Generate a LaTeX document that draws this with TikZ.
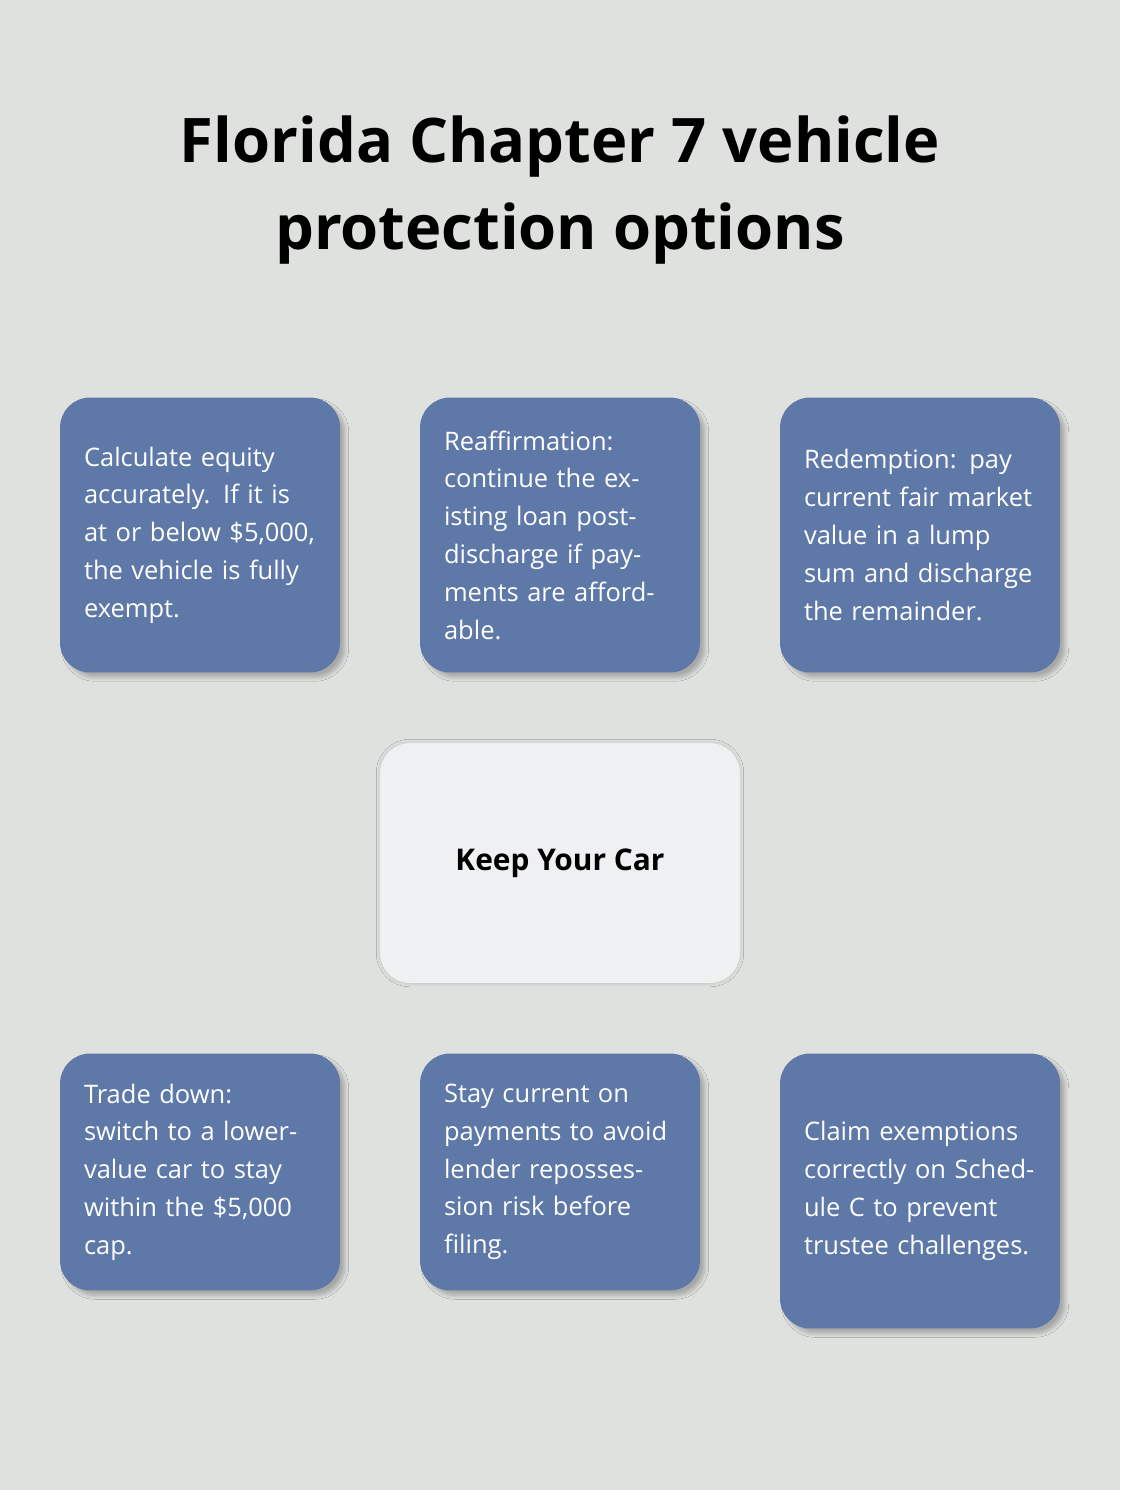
\documentclass[tikz,border=0pt]{standalone}
\usepackage{fontspec}
\setmainfont{Open Sans}
\usetikzlibrary{positioning,shadows.blur,backgrounds}
\definecolor{bgcol}{HTML}{DFE1DF}
\definecolor{boxcol}{HTML}{5E78A8}
\definecolor{hubcol}{HTML}{EFF0F2}
\definecolor{dashcol}{HTML}{5A5A5A}
\tikzset{
  option/.style={fill=boxcol,rounded corners=0.6cm,text=white,align=left,
    text width=4.64cm,inner xsep=0.48cm,inner ysep=0.46cm,
    font=\fontsize{14.5}{21.5}\selectfont,
    blur shadow={shadow blur steps=8,shadow xshift=0.1cm,shadow yshift=-0.1cm,shadow opacity=25}},
  hub/.style={fill=hubcol,rounded corners=0.6cm,minimum width=7.2cm,minimum height=4.8cm,
    font=\fontsize{17}{21}\selectfont\bfseries,
    blur shadow={shadow blur steps=8,shadow xshift=0cm,shadow yshift=0cm,shadow opacity=15}},
  link/.style={dashcol,line width=1.6pt,dash pattern=on 4pt off 4pt}
}
\begin{document}
\begin{tikzpicture}[x=0.02cm,y=-0.02cm]
  \fill[bgcol] (0,0) rectangle (1120,1490);
  \useasboundingbox (0,0) rectangle (1120,1490);

  \node[font=\fontsize{35}{49}\selectfont\bfseries,align=center] (title) at (560,190)
    {Florida Chapter 7 vehicle\\protection options};

  \node[hub] (car) at (560,863) {Keep Your Car};

  \node[option,minimum height=5.5cm] (equity) at (200,535)
    {Calculate equity accurately. If it is at or below \$5,000, the vehicle is fully exempt.};
  \node[option,minimum height=5.5cm] (reaff) at (560,535)
    {Reaffirmation: continue the existing loan post-discharge if payments are affordable.};
  \node[option,minimum height=5.5cm] (redeem) at (920,535)
    {Redemption: pay current fair market value in a lump sum and discharge the remainder.};
  \node[option,minimum height=4.74cm] (trade) at (200,1172)
    {Trade down: switch to a lower-value car to stay within the \$5,000 cap.};
  \node[option,minimum height=4.74cm] (current) at (560,1172)
    {Stay current on payments to avoid lender repossession risk before filing.};
  \node[option,minimum height=5.5cm] (claim) at (920,1191)
    {Claim exemptions correctly on Schedule C to prevent trustee challenges.};

  \begin{pgfonlayer}{background}
    \foreach \n in {equity,reaff,redeem,trade,current,claim}
      \draw[link,shorten <=8pt,shorten >=2pt] (\n) -- (car);
  \end{pgfonlayer}
\end{tikzpicture}
\end{document}
